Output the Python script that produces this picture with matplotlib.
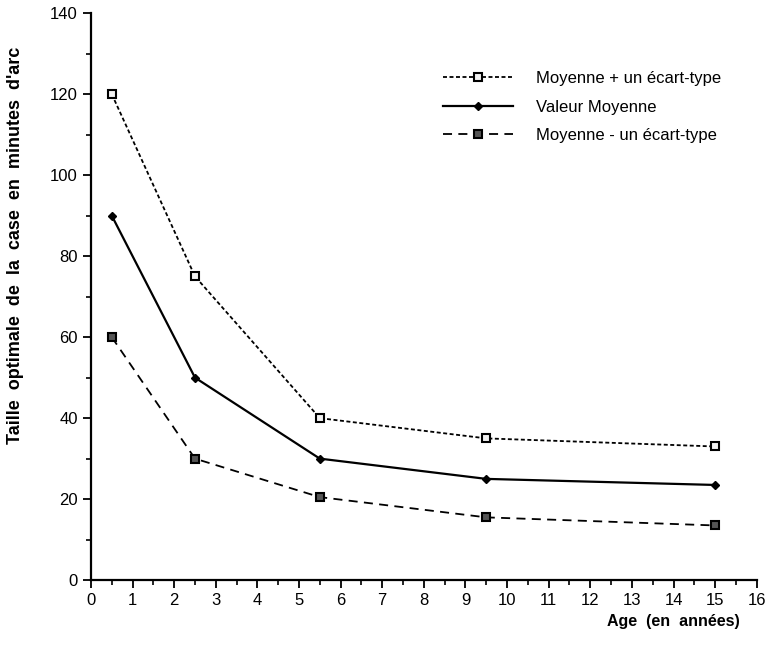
import matplotlib.pyplot as plt
from matplotlib.ticker import MultipleLocator

plt.rcParams['font.family'] = ['Liberation Sans', 'DejaVu Sans']

age = [0.5, 2.5, 5.5, 9.5, 15]
plus_sd = [120, 75, 40, 35, 33]
moyenne = [90, 50, 30, 25, 23.5]
minus_sd = [60, 30, 20.5, 15.5, 13.5]

labels = ['Moyenne + un écart-type', 'Valeur Moyenne', 'Moyenne - un écart-type']

fig = plt.figure(figsize=(7.67, 6.57), dpi=100)
ax = fig.add_axes([0.1186, 0.117, 0.868, 0.863])

ax.plot(age, plus_sd, color='black', lw=1.3, linestyle=(0, (2.2, 1.4)),
        marker='s', ms=6, mfc='#f2f2f2', mec='black', mew=1.5, label=labels[0])
ax.plot(age, moyenne, color='black', lw=1.6, linestyle='-',
        marker='D', ms=4.5, mfc='black', mec='black', label=labels[1])
ax.plot(age, minus_sd, color='black', lw=1.3, linestyle=(0, (5, 3.5)),
        marker='s', ms=6, mfc='#555555', mec='black', mew=1.5, label=labels[2])

ax.set_xlim(0, 16)
ax.set_ylim(0, 140)
ax.xaxis.set_major_locator(MultipleLocator(1))
ax.xaxis.set_minor_locator(MultipleLocator(0.5))
ax.yaxis.set_major_locator(MultipleLocator(20))
ax.yaxis.set_minor_locator(MultipleLocator(10))
ax.tick_params(which='major', direction='out', length=6, width=1.3, labelsize=12)
ax.tick_params(which='minor', direction='out', length=3.5, width=1.2)
for s in ['top', 'right']:
    ax.spines[s].set_visible(False)
for s in ['left', 'bottom']:
    ax.spines[s].set_linewidth(1.6)

ax.set_ylabel("Taille  optimale  de  la  case  en  minutes  d'arc",
              fontsize=13, fontweight='bold')
ax.yaxis.set_label_coords(-0.1, 0.59)
fig.text(0.965, 0.054, 'Age  (en  années)', fontsize=11.5, fontweight='bold',
         ha='right', va='center')

ax.legend(loc='upper right', bbox_to_anchor=(0.969, 0.924), frameon=False,
          fontsize=12, handlelength=4.2, labelspacing=0.8, handletextpad=1.4)

fig.savefig('out.png', dpi=100)
